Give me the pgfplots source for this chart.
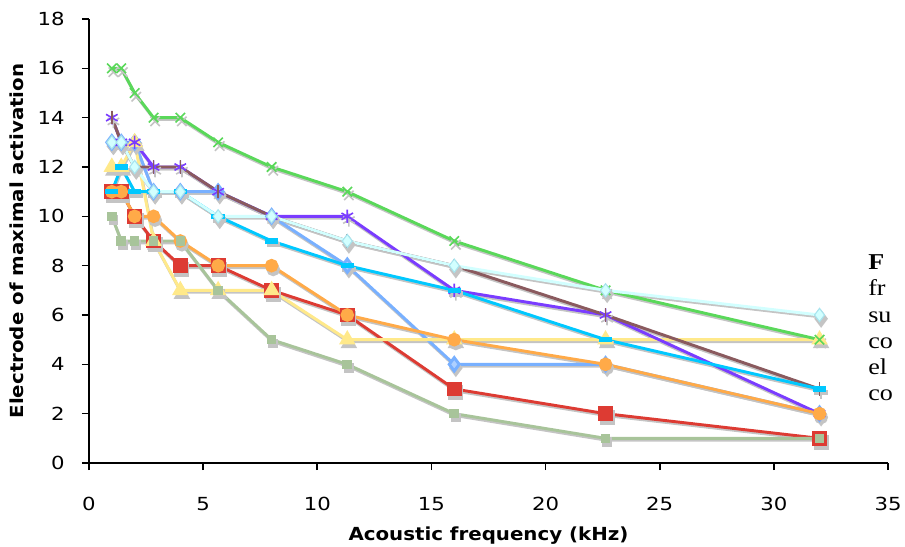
\documentclass[border=0pt]{standalone}
\usepackage{fontspec}
\setmainfont{DejaVu Sans}
\newfontfamily\tickfont[FakeStretch=1.18]{DejaVu Sans}
\newfontfamily\labfont[FakeStretch=1.1]{DejaVu Sans}
\newfontfamily\capfont[FakeStretch=1.15]{Liberation Serif}
\usepackage{pgfplots}
\usepackage{pgfplotstable}
\pgfplotsset{compat=1.18}
\definecolor{cLB}{HTML}{78B0FF}
\definecolor{cRed}{HTML}{DD3B33}
\definecolor{cYel}{HTML}{FFE98A}
\definecolor{cGrn}{HTML}{5AD85A}
\definecolor{cPur}{HTML}{7A3CFF}
\definecolor{cOra}{HTML}{FFAA48}
\definecolor{cBro}{HTML}{8A5A5E}
\definecolor{cCya}{HTML}{00C8FF}
\definecolor{cPal}{HTML}{D2FFFF}
\definecolor{cPalE}{HTML}{A8E4EE}
\definecolor{cSag}{HTML}{A8C49A}
\definecolor{cShd}{HTML}{C4C4C4}
\pgfplotstableread{
f      lb  red yel grn pur ora bro cya pal sag
1      13  11  12  16  14  11  14  11  13  10
1.414  13  11  12  16  13  11  13  12  13  9
2      13  10  13  15  13  10  12  11  12  9
2.828  11  9   9   14  12  10  12  11  11  9
4      11  8   7   14  12  9   12  11  11  9
5.657  11  8   7   13  11  8   11  10  10  7
8      10  7   7   12  10  8   10  9   10  5
11.314 8   6   5   11  10  6   9   8   9   4
16     4   3   5   9   7   5   8   7   8   2
22.627 4   2   5   7   6   4   6   5   7   1
32     2   1   5   5   2   2   3   3   6   1
}\data
\begin{document}
\begin{tikzpicture}[x=0.75pt,y=0.75pt]
\useasboundingbox (-89,-83) rectangle (816,463);
\begin{axis}[at={(0,0)}, anchor=south west, scale only axis,
  width=599.25pt, height=333pt,
  xmin=0, xmax=35, ymin=0, ymax=18,
  xtick={0,5,...,35}, ytick={0,2,...,18},
  axis lines=left, axis line style={line width=1.4pt,-},
  tick align=outside, major tick length=5.25pt,
  tick style={black,line width=1.2pt},
  ticklabel style={font=\tickfont\fontsize{13.5}{15}\selectfont},
  /pgf/number format/assume math mode=true,
  xticklabel style={anchor=base, yshift=-30pt},
  yticklabel style={xshift=-9.5pt},
  xlabel={\textbf{Acoustic frequency (kHz)}},
  ylabel={\textbf{Electrode of maximal activation}},
  label style={font=\labfont\fontsize{13.5}{15}\selectfont},
  xlabel style={at={(axis description cs:0.5,0)}, anchor=base, yshift=-57.75pt},
  ylabel style={at={(axis description cs:0,0.5)}, anchor=base, yshift=48.75pt},
  clip=false,
  every axis plot/.append style={line width=2.2pt, mark options={solid}},
  shd/.style={color=cShd, forget plot, mark options={fill=cShd, draw=cShd}, transform canvas={xshift=0.6pt, yshift=-1.4pt}},
]
% shadows
\addplot[shd, mark=diamond*, mark size=5pt] table[x=f,y=lb]{\data};
\addplot[shd, mark=square*, mark size=4.5pt] table[x=f,y=red]{\data};
\addplot[shd, mark=triangle*, mark size=5pt] table[x=f,y=yel]{\data};
\addplot[shd, mark=x, mark size=5pt, mark options={line width=1.2pt}] table[x=f,y=grn]{\data};
\addplot[shd, mark=asterisk, mark size=5pt, mark options={line width=1.2pt}] table[x=f,y=pur]{\data};
\addplot[shd, mark=*, mark size=4pt] table[x=f,y=ora]{\data};
\addplot[shd, mark=|, mark size=5pt, mark options={line width=1.2pt}] table[x=f,y=bro]{\data};
\addplot[shd, mark=-, mark size=5pt, mark options={line width=4pt}] table[x=f,y=cya]{\data};
\addplot[shd, mark=diamond*, mark size=5pt] table[x=f,y=pal]{\data};
\addplot[shd, mark=square*, mark size=2.5pt] table[x=f,y=sag]{\data};
% series
\addplot[color=cLB, mark=diamond*, mark size=5pt, mark options={fill=cLB!60!white, draw=cLB}] table[x=f,y=lb]{\data};
\addplot[color=cRed, mark=square*, mark size=4.5pt, mark options={fill=cRed}] table[x=f,y=red]{\data};
\addplot[color=cYel, mark=triangle*, mark size=5pt, mark options={fill=cYel}] table[x=f,y=yel]{\data};
\addplot[color=cGrn, mark=x, mark size=5pt, mark options={line width=1.2pt}] table[x=f,y=grn]{\data};
\addplot[color=cPur, mark=asterisk, mark size=5pt, mark options={line width=1.2pt}] table[x=f,y=pur]{\data};
\addplot[color=cOra, mark=*, mark size=4pt, mark options={fill=cOra}] table[x=f,y=ora]{\data};
\addplot[color=cBro, mark=|, mark size=5pt, mark options={line width=1.2pt}] table[x=f,y=bro]{\data};
\addplot[color=cCya, mark=-, mark size=5pt, mark options={line width=4pt}] table[x=f,y=cya]{\data};
\addplot[color=cPal, mark=diamond*, mark size=5pt, mark options={fill=cPal, draw=cPalE, line width=0.8pt}] table[x=f,y=pal]{\data};
\addplot[color=cSag, mark=square*, mark size=2.5pt, mark options={fill=cSag}] table[x=f,y=sag]{\data};
\end{axis}
\begin{scope}[font=\capfont\fontsize{17}{19}\selectfont]
\node[anchor=base west, inner sep=0pt] at (779,193) {\textbf{F}};
\node[anchor=base west, inner sep=0pt] at (779,167) {fr};
\node[anchor=base west, inner sep=0pt] at (779,141) {su};
\node[anchor=base west, inner sep=0pt] at (779,115) {co};
\node[anchor=base west, inner sep=0pt] at (779,89) {el};
\node[anchor=base west, inner sep=0pt] at (779,63) {co};
\end{scope}
\end{tikzpicture}
\end{document}
